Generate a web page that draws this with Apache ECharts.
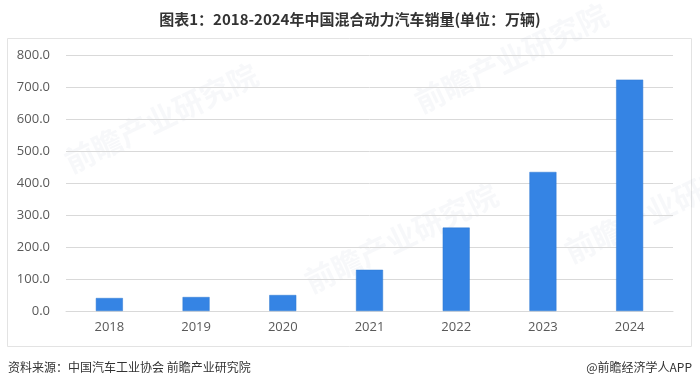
<!DOCTYPE html>
<html><head><meta charset="utf-8">
<script src="https://cdn.jsdelivr.net/npm/echarts@6/dist/echarts.min.js"></script>
<style>html,body{margin:0;padding:0;background:#fff}#c{width:700px;height:388px}</style>
</head><body><div id="c"></div>
<script>
const titleText = '图表1：2018-2024年中国混合动力汽车销量(单位：万辆)';
const sourceText = '资料来源：中国汽车工业协会 前瞻产业研究院';
const brandText = '@前瞻经济学人APP';
const categories = ['2018','2019','2020','2021','2022','2023','2024'];
const sales = [40.6, 43.7, 50.0, 128.9, 260.6, 434.5, 723.0];
const yTicks = [0, 100, 200, 300, 400, 500, 600, 700, 800];

const chart = echarts.init(document.getElementById('c'), null, {renderer:'canvas'});
const font = '"Noto Sans CJK SC", "Noto Sans", sans-serif';
const wm = (x, y) => ({
  type:'text', x:x, y:y, rotation: Math.PI/7, silent:true, z:-1,
  style:{text:'前瞻产业研究院', fill:'rgba(150,170,190,0.08)', font:'bold 30px ' + font}
});
chart.setOption({
  animation:false,
  title:{text:titleText, left:'center', top:7,
    textStyle:{fontSize:15, fontWeight:'bold', color:'#333', fontFamily:font}},
  grid:{left:66, right:27, top:55, bottom:77, containLabel:false},
  xAxis:{type:'category', data:categories,
    axisLine:{show:true, lineStyle:{color:'#d9d9d9'}}, axisTick:{show:false},
    axisLabel:{color:'#595959', fontSize:13, margin:10, fontFamily:'"Open Sans", sans-serif'}},
  yAxis:{type:'value', min:yTicks[0], max:yTicks[yTicks.length-1], interval:100,
    axisLine:{show:false}, axisTick:{show:false},
    splitLine:{lineStyle:{color:'#d9d9d9'}},
    axisLabel:{color:'#595959', fontSize:13, margin:16, fontFamily:'"Open Sans", sans-serif',
      formatter:v=>v.toFixed(1)}},
  series:[{type:'bar', data:sales, barWidth:27,
    itemStyle:{color:'#3584e4', borderColor:'#2f78d0', borderWidth:0.5}}],
  graphic:[
    {type:'rect', shape:{x:7.5, y:38.5, width:684, height:308}, silent:true, z:-2,
      style:{fill:'none', stroke:'#e3e3e3', lineWidth:1}},
    wm(60, 150), wm(300, 270), wm(410, 90), wm(560, 240),
    {type:'text', left:8, top:361, silent:true,
      style:{text:sourceText, fill:'#333', font:'12px ' + font}},
    {type:'text', right:8, top:361, silent:true,
      style:{text:brandText, fill:'#333', font:'12px ' + font}}
  ]
});
</script></body></html>
